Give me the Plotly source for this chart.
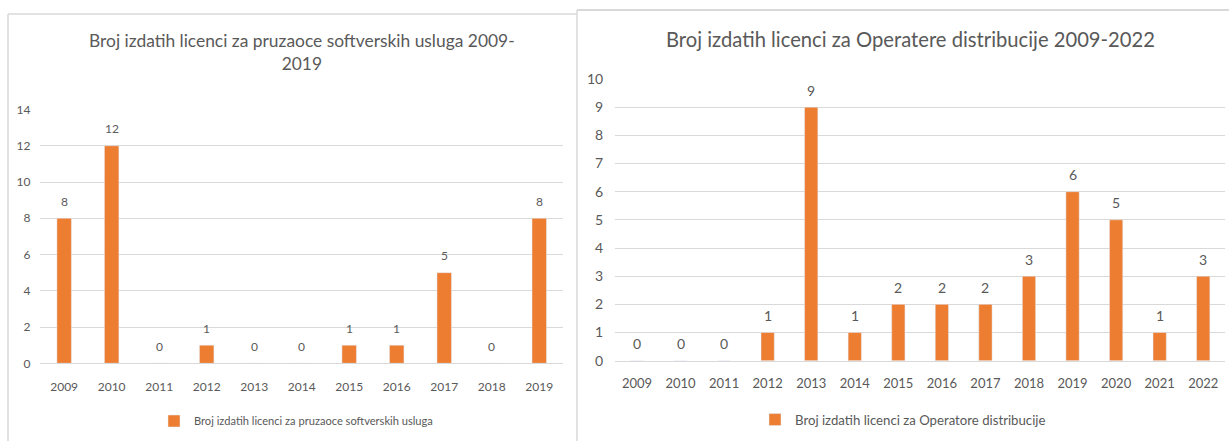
import plotly.graph_objects as go

# ---- data ----
years_left = ["2009", "2010", "2011", "2012", "2013", "2014", "2015", "2016", "2017", "2018", "2019"]
values_left = [8, 12, 0, 1, 0, 0, 1, 1, 5, 0, 8]
name_left = "Broj izdatih licenci za pruzaoce softverskih usluga"
title_left = "Broj izdatih licenci za pruzaoce softverskih usluga 2009-<br>2019"

years_right = ["2009", "2010", "2011", "2012", "2013", "2014", "2015", "2016", "2017", "2018",
               "2019", "2020", "2021", "2022"]
values_right = [0, 0, 0, 1, 9, 1, 2, 2, 2, 3, 6, 5, 1, 3]
name_right = "Broj izdatih licenci za Operatore distribucije"
title_right = "Broj izdatih licenci za Operatere distribucije 2009-2022"

W, H = 1229, 441
FONT = "Lato, Carlito, Calibri, Open Sans, sans-serif"
TXT = "#595959"
GRID = "#D9D9D9"
BAR = "#ED7D31"


def px_x(p):
    return p / W


def px_y(p):
    return (H - p) / H


fig = go.Figure()
fig.add_trace(go.Bar(x=years_left, y=values_left, name=name_left, marker_color=BAR,
                     xaxis="x", yaxis="y", legend="legend", showlegend=True))
fig.add_trace(go.Bar(x=years_right, y=values_right, name=name_right, marker_color=BAR,
                     xaxis="x2", yaxis="y2", legend="legend2", showlegend=True))

annotations = []
for i, v in enumerate(values_left):
    annotations.append(dict(x=i, y=v, xref="x", yref="y", text=str(v), showarrow=False,
                            yanchor="middle", yshift=17, font=dict(size=12, color=TXT, family=FONT)))
for i, v in enumerate(values_right):
    annotations.append(dict(x=i, y=v, xref="x2", yref="y2", text=str(v), showarrow=False,
                            yanchor="middle", yshift=17, font=dict(size=14, color=TXT, family=FONT)))

# titles
annotations.append(dict(x=px_x(302), y=px_y(52), xref="paper", yref="paper", text=title_left,
                        showarrow=False, xanchor="center", yanchor="middle",
                        font=dict(size=17.4, color=TXT, family=FONT)))
annotations.append(dict(x=px_x(910), y=px_y(39), xref="paper", yref="paper", text=title_right,
                        showarrow=False, xanchor="center", yanchor="middle",
                        font=dict(size=20.2, color=TXT, family=FONT)))

shapes = [
    # left chart frame
    dict(type="line", xref="paper", yref="paper", x0=px_x(8), x1=px_x(577), y0=px_y(14), y1=px_y(14),
         line=dict(color=GRID, width=1.5)),
    dict(type="line", xref="paper", yref="paper", x0=px_x(8), x1=px_x(8), y0=px_y(14), y1=0,
         line=dict(color=GRID, width=1.5)),
    # right chart frame
    dict(type="line", xref="paper", yref="paper", x0=px_x(577), x1=1, y0=px_y(10), y1=px_y(10),
         line=dict(color=GRID, width=2)),
    dict(type="line", xref="paper", yref="paper", x0=px_x(577), x1=px_x(577), y0=px_y(10), y1=0,
         line=dict(color=GRID, width=1.5)),
]

fig.update_layout(
    width=W, height=H,
    margin=dict(l=0, r=0, t=0, b=0, autoexpand=False),
    paper_bgcolor="white", plot_bgcolor="white",
    font=dict(family=FONT, color=TXT),
    bargap=0.695,
    annotations=annotations,
    shapes=shapes,
    xaxis=dict(domain=[px_x(40.4), px_x(563)], type="category", range=[-0.5, len(years_left) - 0.5],
               showgrid=False, showline=True, linecolor=GRID, linewidth=1, ticks="",
               tickfont=dict(size=12, color=TXT, family=FONT), ticklabelstandoff=12,
               anchor="y"),
    yaxis=dict(domain=[px_y(363.3), px_y(109.5)], range=[0, 14], dtick=2, showgrid=True,
               gridcolor=GRID, gridwidth=1, zeroline=False, showline=False,
               tickfont=dict(size=12, color=TXT, family=FONT), ticklabelstandoff=9,
               anchor="x"),
    xaxis2=dict(domain=[px_x(615.2), px_x(1225)], type="category", range=[-0.5, len(years_right) - 0.5],
                showgrid=False, showline=True, linecolor=GRID, linewidth=1, ticks="",
                tickfont=dict(size=13, color=TXT, family=FONT), ticklabelstandoff=11,
                anchor="y2"),
    yaxis2=dict(domain=[px_y(360.7), px_y(79)], range=[0, 10], dtick=1, showgrid=True,
                gridcolor=GRID, gridwidth=1, zeroline=False, showline=False,
                tickfont=dict(size=14, color=TXT, family=FONT), ticklabelstandoff=11,
                anchor="x2"),
    legend=dict(x=px_x(296), y=px_y(421), xanchor="center", yanchor="middle",
                orientation="h", font=dict(size=11.1, color=TXT, family=FONT),
                bgcolor="rgba(0,0,0,0)", itemwidth=30),
    legend2=dict(x=px_x(903), y=px_y(420), xanchor="center", yanchor="middle",
                 orientation="h", font=dict(size=13.2, color=TXT, family=FONT),
                 bgcolor="rgba(0,0,0,0)", itemwidth=30),
)

fig.write_html(
    "out.html",
    config={"displayModeBar": False},
    post_script="document.body.style.margin='0';document.body.style.overflow='hidden';",
)
